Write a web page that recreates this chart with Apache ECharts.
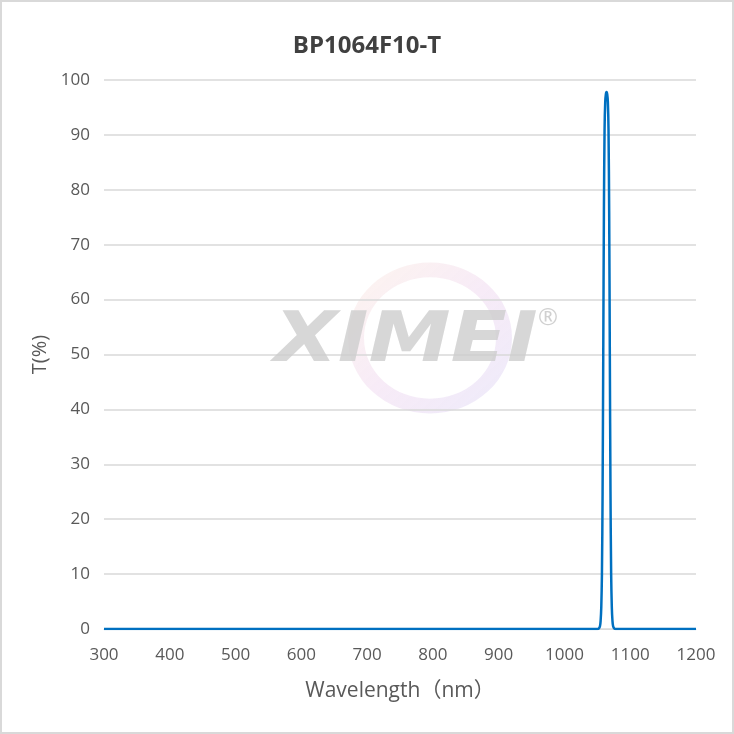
<!DOCTYPE html>
<html>
<head>
<meta charset="utf-8">
<script src="https://cdn.jsdelivr.net/npm/echarts@6/dist/echarts.min.js"></script>
<style>
html,body{margin:0;padding:0;background:#fff;}
#wrap{position:absolute;left:0;top:0;width:730px;height:730px;border:2px solid #d9d9d9;}
#chart{width:730px;height:730px;}
</style>
</head>
<body>
<div id="wrap"><div id="chart"></div></div>
<script>
const titleText = 'BP1064F10-T';
const xName = 'Wavelength（nm）';
const yName = 'T(%)';
const wavelengths = [300, 1040, 1050, 1052, 1054, 1055, 1056, 1057, 1058, 1059, 1060, 1061, 1062, 1063, 1064, 1065, 1066, 1067, 1068, 1069, 1070, 1071, 1072, 1073, 1074, 1076, 1078, 1090, 1200];
const transmission = [0, 0, 0, 0.05, 0.5, 1.5, 4, 10, 25, 50, 76, 91, 96, 97.4, 97.8, 97.4, 96, 91, 76, 50, 25, 10, 4, 1.5, 0.5, 0.05, 0, 0, 0];
const xTicks = [300, 400, 500, 600, 700, 800, 900, 1000, 1100, 1200];

const font = '"Open Sans","Noto Sans","Noto Sans CJK SC",sans-serif';
const chart = echarts.init(document.getElementById('chart'));
chart.setOption({
  animation: false,
  title: {
    text: titleText, left: 'center', top: 27,
    textStyle: {fontFamily: font, fontSize: 24, fontWeight: 'bold', color: '#404040'}
  },
  grid: {left: 102, right: 36, top: 78, bottom: 103},
  graphic: [
    {type: 'ring', x: 428, y: 336, shape: {cx: 0, cy: 0, r: 82, r0: 66}, scaleY: 0.92,
     style: {fill: {type: 'linear', x: 0, y: 0, x2: 1, y2: 1, colorStops: [
       {offset: 0, color: 'rgba(250,225,210,0.35)'}, {offset: 0.5, color: 'rgba(235,205,235,0.4)'}, {offset: 1, color: 'rgba(215,210,245,0.45)'}]}},
     silent: true, z: 0},
    {type: 'text', x: 272, y: 306, z: 1, silent: true,
     style: {text: 'XIMEI', fontFamily: '"DejaVu Sans",sans-serif', fontStyle: 'italic', fontWeight: 'bold', fontSize: 70, fill: 'rgba(205,205,205,0.8)'},
     scaleX: 1.18},
    {type: 'text', x: 536, y: 304, z: 1, silent: true,
     style: {text: '®', fontFamily: font, fontSize: 24, fill: 'rgba(200,200,200,0.85)'}}
  ],
  xAxis: {
    type: 'value', min: 300, max: 1200, interval: 100,
    name: xName, nameLocation: 'middle', nameGap: 52,
    nameTextStyle: {fontFamily: font, fontSize: 21, color: '#595959'},
    axisLine: {show: true, lineStyle: {color: '#d9d9d9'}},
    axisTick: {show: false},
    splitLine: {show: false},
    axisLabel: {fontFamily: font, fontSize: 17, color: '#595959', margin: 18,
      formatter: v => xTicks.includes(v) ? String(v) : ''}
  },
  yAxis: {
    type: 'value', min: 0, max: 100, interval: 10,
    name: yName, nameLocation: 'middle', nameGap: 54, nameRotate: 90,
    nameTextStyle: {fontFamily: font, fontSize: 20, color: '#595959'},
    axisLine: {show: false}, axisTick: {show: false},
    splitLine: {lineStyle: {color: '#d9d9d9', width: 1.5}},
    axisLabel: {fontFamily: font, fontSize: 17, color: '#595959', margin: 14}
  },
  series: [{
    type: 'line', data: wavelengths.map((w, i) => [w, transmission[i]]),
    smooth: 0.3, showSymbol: false, z: 5,
    lineStyle: {color: '#0070C0', width: 2.5}
  }]
});
</script>
</body>
</html>
